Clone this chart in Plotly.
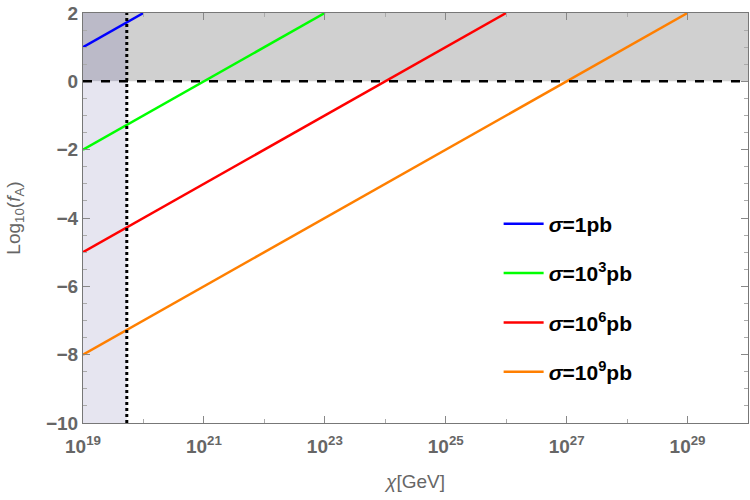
import plotly.graph_objects as go

# Data
labels = ["σ=1pb", "σ=10<sup>3</sup>pb", "σ=10<sup>6</sup>pb", "σ=10<sup>9</sup>pb"]
colors = ["#0000ff", "#00ff00", "#ff0000", "#ff7f00"]
chi_start = [1e19, 1e19, 1e19, 1e19]
chi_end = [1e20, 1e23, 1e26, 1e29]
fa_start = [1, -2, -5, -8]
fa_end = [2, 2, 2, 2]

chi_min = 5.3e19     # vertical dotted bound
fa_limit = 0         # horizontal dashed bound
x_range = [1e19, 1e30]
y_range = [-10, 2]

x_tickvals = [1e19, 1e21, 1e23, 1e25, 1e27, 1e29]
x_exps = ["19", "21", "23", "25", "27", "29"]
x_minor = [1e20, 1e22, 1e24, 1e26, 1e28]
y_tickvals = [-10, -8, -6, -4, -2, 0, 2]
y_ticktext = ["<b>−10</b>", "<b>−8</b>", "<b>−6</b>", "<b>−4</b>", "<b>−2</b>", "<b>0</b>", "<b>2</b>"]

x_ticktext = ["<b>10<sup>" + e + "</sup></b>" for e in x_exps]

fig = go.Figure()

for i, lab in enumerate(labels):
    fig.add_trace(go.Scatter(
        x=[chi_start[i], chi_end[i]], y=[fa_start[i], fa_end[i]],
        mode="lines", line=dict(color=colors[i], width=2.5),
        name="<b><i>σ</i>" + lab[1:] + "</b>", legendgroup=str(i),
    ))

# shaded regions
fig.add_shape(type="rect", xref="x", yref="y", x0=chi_min, x1=x_range[1], y0=fa_limit, y1=y_range[1],
              fillcolor="#d0d0d0", line_width=0, layer="below")
fig.add_shape(type="rect", xref="x", yref="y", x0=x_range[0], x1=chi_min, y0=y_range[0], y1=fa_limit,
              fillcolor="#e6e5f0", line_width=0, layer="below")
fig.add_shape(type="rect", xref="x", yref="y", x0=x_range[0], x1=chi_min, y0=fa_limit, y1=y_range[1],
              fillcolor="#bbbac8", line_width=0, layer="below")
# bounds
fig.add_shape(type="line", xref="x", yref="y", x0=x_range[0], x1=x_range[1], y0=fa_limit, y1=fa_limit,
              line=dict(color="black", width=2.5, dash="dash"))
fig.add_shape(type="line", xref="x", yref="y", x0=chi_min, x1=chi_min, y0=y_range[0], y1=y_range[1],
              line=dict(color="black", width=3, dash="dot"))

fam = "Liberation Sans, Arial, sans-serif"
fig.update_xaxes(
    type="log", range=[19, 30], tickvals=x_tickvals, ticktext=x_ticktext,
    ticks="inside", ticklen=7, tickcolor="#888888", mirror="ticks",
    showline=True, linecolor="#777777", linewidth=1, showgrid=False, zeroline=False,
    tickfont=dict(family=fam, size=19, color="#666666"), ticklabelstandoff=6,
    minor=dict(tickvals=x_minor, ticks="inside", ticklen=4, tickcolor="#aaaaaa"),
    title=dict(text="<i>χ</i>[GeV]", font=dict(family=fam, size=19, color="#666666"), standoff=18),
)
fig.update_yaxes(
    range=y_range, tickvals=y_tickvals, ticktext=y_ticktext,
    ticks="inside", ticklen=7, tickcolor="#888888", mirror="ticks",
    showline=True, linecolor="#777777", linewidth=1, showgrid=False, zeroline=False,
    tickfont=dict(family=fam, size=19, color="#666666"),
    minor=dict(dtick=0.5, ticks="inside", ticklen=4, tickcolor="#aaaaaa"),
    title=dict(text="Log<sub>10</sub>(<i>f</i><sub>A</sub>)", font=dict(family=fam, size=19, color="#666666"), standoff=20),
)

fig.update_layout(
    width=750, height=500,
    margin=dict(l=83, r=2, t=13, b=77),
    plot_bgcolor="white", paper_bgcolor="white",
    legend=dict(x=0.625, y=0.535, xanchor="left", yanchor="top", bgcolor="rgba(0,0,0,0)",
                font=dict(family=fam, size=21, color="black"), itemwidth=40,
                tracegroupgap=19, traceorder="grouped"),
)

fig.write_html("out.html")
